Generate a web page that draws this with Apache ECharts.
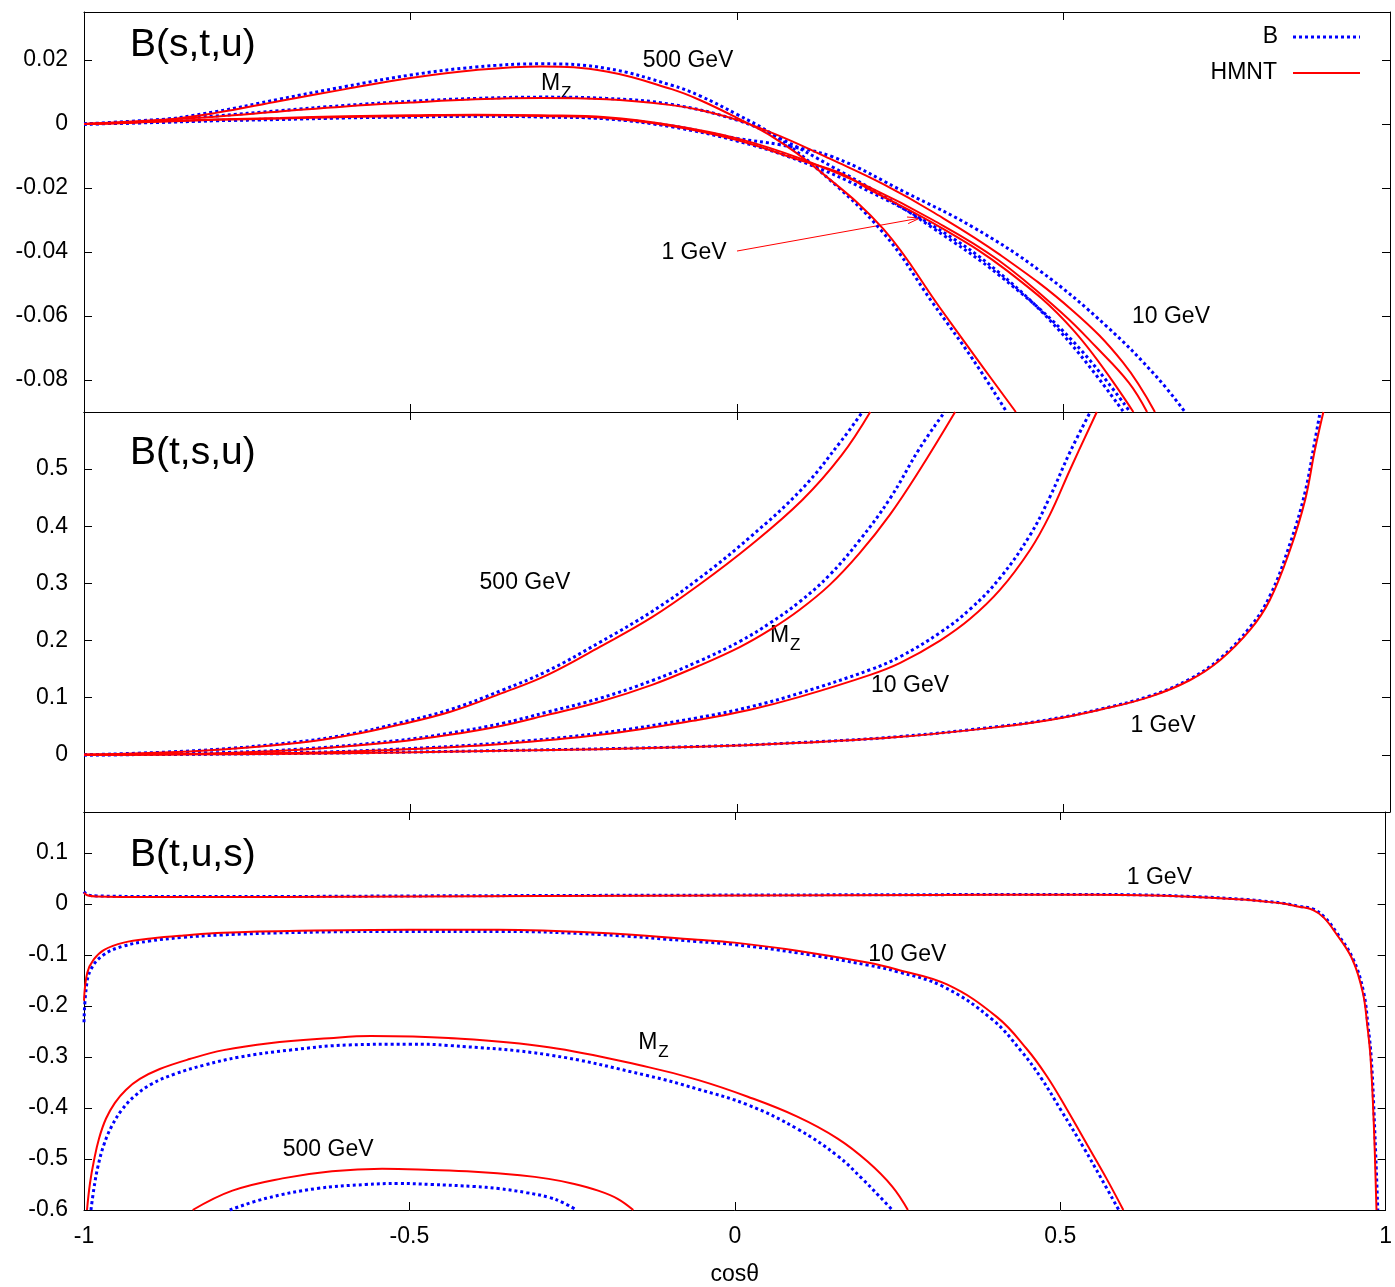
<!DOCTYPE html>
<html><head><meta charset="utf-8">
<script src="https://cdn.jsdelivr.net/npm/echarts@6/dist/echarts.min.js"></script>
<style>html,body{margin:0;padding:0;background:#fff}#c{width:1395px;height:1287px}</style>
</head><body><div id="c"></div><script>
// ---------- axes ----------
const xTicks = [-1, -0.5, 0, 0.5, 1];
const yTicks1 = [-0.08, -0.06, -0.04, -0.02, 0, 0.02];
const yTicks2 = [0, 0.1, 0.2, 0.3, 0.4, 0.5];
const yTicks3 = [-0.6, -0.5, -0.4, -0.3, -0.2, -0.1, 0, 0.1];
const yRange1 = [-0.09, 0.035];
const yRange2 = [-0.1, 0.6];
const yRange3 = [-0.6, 0.18];
const panelTitles = ['B(s,t,u)', 'B(t,s,u)', 'B(t,u,s)'];
const energies = ['500 GeV', 'M_Z', '10 GeV', '1 GeV'];

// ---------- panel 1 : B(s,t,u) ----------
const stu_500_B = [[-1,0],[-0.9,0.0009],[-0.8,0.0038],[-0.7,0.0078],[-0.6,0.0117],[-0.5,0.0153],[-0.4,0.0178],[-0.3,0.0188],[-0.2,0.0174],[-0.1,0.0121],[-0.057,0.0088],[0,0.003],[0.055,-0.0033],[0.123,-0.014],[0.224,-0.034],[0.3,-0.056],[0.361,-0.0735],[0.413,-0.09]];
const stu_500_H = [[-1,0],[-0.9,0.0008],[-0.8,0.0034],[-0.7,0.0072],[-0.6,0.0109],[-0.5,0.0144],[-0.4,0.0169],[-0.3,0.018],[-0.2,0.0164],[-0.1,0.0109],[-0.057,0.0075],[0,0.0019],[0.055,-0.0041],[0.123,-0.0141],[0.224,-0.0328],[0.311,-0.0575],[0.372,-0.0747],[0.427,-0.09]];
const stu_MZ_B = [[-1,0],[-0.9,0.0012],[-0.8,0.0025],[-0.7,0.0042],[-0.6,0.0058],[-0.5,0.0071],[-0.4,0.008],[-0.3,0.0084],[-0.2,0.008],[-0.1,0.0061],[0,0.0012],[0.066,-0.0045],[0.147,-0.0135],[0.224,-0.0225],[0.3,-0.0325],[0.403,-0.0475],[0.515,-0.068],[0.602,-0.09]];
const stu_MZ_H = [[-1,0],[-0.9,0.0011],[-0.8,0.0023],[-0.7,0.0039],[-0.6,0.0055],[-0.5,0.0067],[-0.4,0.0077],[-0.3,0.0081],[-0.2,0.0077],[-0.1,0.0059],[-0.057,0.0044],[0,0.0013],[0.066,-0.0038],[0.147,-0.0113],[0.224,-0.0188],[0.3,-0.0275],[0.403,-0.0409],[0.515,-0.0585],[0.591,-0.0745],[0.64,-0.09]];
const stu_10_B = [[-1,0],[-0.9,0.0005],[-0.8,0.0011],[-0.7,0.0016],[-0.6,0.002],[-0.5,0.0023],[-0.4,0.0025],[-0.3,0.0023],[-0.2,0.0017],[-0.1,-0.0006],[0,-0.0045],[0.066,-0.0065],[0.147,-0.0103],[0.26,-0.0216],[0.361,-0.0322],[0.464,-0.0459],[0.567,-0.0634],[0.643,-0.0791],[0.686,-0.09]];
const stu_10_H = [[-1,0],[-0.9,0.0007],[-0.8,0.0014],[-0.7,0.0019],[-0.6,0.0024],[-0.5,0.0027],[-0.4,0.0029],[-0.3,0.0027],[-0.2,0.0021],[-0.1,-0.0004],[0,-0.0045],[0.1,-0.011],[0.2,-0.0195],[0.3,-0.03],[0.4,-0.0425],[0.5,-0.0595],[0.55,-0.0697],[0.6,-0.0808],[0.628,-0.09]];
const stu_1_B = [[-1,0],[-0.9,0.0004],[-0.8,0.001],[-0.7,0.0014],[-0.6,0.0019],[-0.5,0.0022],[-0.4,0.0024],[-0.3,0.0022],[-0.2,0.0016],[-0.1,-0.0009],[0,-0.0053],[0.1,-0.0118],[0.2,-0.0208],[0.3,-0.0318],[0.4,-0.0462],[0.5,-0.066],[0.592,-0.09]];
const stu_1_H = [[-1,0],[-0.9,0.0006],[-0.8,0.0013],[-0.7,0.0017],[-0.6,0.0022],[-0.5,0.0025],[-0.4,0.0027],[-0.3,0.0025],[-0.2,0.0019],[-0.1,-0.0006],[0,-0.005],[0.096,-0.0113],[0.158,-0.0153],[0.199,-0.02],[0.311,-0.0322],[0.414,-0.0459],[0.515,-0.0644],[0.607,-0.09]];

// ---------- panel 2 : B(t,s,u) ----------
const tsu_500_B = [[-1,0],[-0.82,0.008],[-0.67,0.023],[-0.59,0.037],[-0.52,0.055],[-0.44,0.079],[-0.36,0.113],[-0.29,0.147],[-0.21,0.197],[-0.13,0.251],[-0.06,0.307],[0.02,0.381],[0.1,0.466],[0.16,0.55],[0.192,0.6]];
const tsu_500_H = [[-1,0],[-0.82,0.007],[-0.67,0.021],[-0.59,0.035],[-0.52,0.052],[-0.44,0.075],[-0.36,0.108],[-0.29,0.14],[-0.21,0.189],[-0.13,0.241],[-0.06,0.296],[0.02,0.366],[0.1,0.446],[0.16,0.524],[0.204,0.6]];
const tsu_MZ_B = [[-1,0],[-0.82,0.003],[-0.67,0.01],[-0.52,0.025],[-0.44,0.038],[-0.36,0.055],[-0.29,0.075],[-0.21,0.099],[-0.13,0.13],[-0.06,0.163],[0.005,0.199],[0.051,0.231],[0.096,0.268],[0.142,0.315],[0.188,0.376],[0.234,0.448],[0.28,0.537],[0.318,0.6]];
const tsu_MZ_H = [[-1,0],[-0.82,0.002],[-0.67,0.009],[-0.52,0.023],[-0.44,0.035],[-0.36,0.051],[-0.29,0.07],[-0.21,0.093],[-0.13,0.1225],[-0.06,0.155],[0.005,0.189],[0.051,0.219],[0.096,0.254],[0.142,0.2975],[0.188,0.3535],[0.234,0.42],[0.28,0.499],[0.334,0.6]];
const tsu_10_B = [[-1,0],[-0.67,0.004],[-0.52,0.01],[-0.36,0.021],[-0.21,0.038],[-0.06,0.065],[0.02,0.084],[0.096,0.108],[0.204,0.149],[0.25,0.172],[0.311,0.214],[0.357,0.255],[0.403,0.31],[0.449,0.385],[0.479,0.451],[0.51,0.53],[0.541,0.6]];
const tsu_10_H = [[-1,0],[-0.67,0.0035],[-0.52,0.009],[-0.36,0.019],[-0.21,0.035],[-0.06,0.061],[0.02,0.079],[0.096,0.1015],[0.204,0.14],[0.25,0.161],[0.311,0.2],[0.357,0.238],[0.403,0.289],[0.449,0.359],[0.479,0.42],[0.51,0.499],[0.551,0.6]];
const tsu_1_B = [[-1,0],[-0.67,0.0025],[-0.36,0.0075],[-0.06,0.0145],[0.096,0.0215],[0.25,0.032],[0.403,0.05],[0.479,0.062],[0.556,0.08],[0.632,0.103],[0.694,0.133],[0.74,0.169],[0.786,0.224],[0.816,0.278],[0.847,0.37],[0.87,0.46],[0.885,0.55],[0.893,0.6]];
const tsu_1_H = [[-1,0],[-0.67,0.002],[-0.36,0.007],[-0.06,0.014],[0.096,0.021],[0.25,0.0315],[0.403,0.049],[0.479,0.061],[0.556,0.079],[0.632,0.1015],[0.694,0.131],[0.74,0.166],[0.786,0.219],[0.816,0.271],[0.847,0.359],[0.87,0.446],[0.885,0.534],[0.898,0.6]];

// ---------- panel 3 : B(t,u,s) ----------
const tus_500_B = [[-0.776,-0.6],[-0.72,-0.577],[-0.643,-0.558],[-0.567,-0.55],[-0.516,-0.548],[-0.466,-0.55],[-0.4,-0.554],[-0.363,-0.558],[-0.32,-0.566],[-0.286,-0.575],[-0.265,-0.585],[-0.243,-0.6]];
const tus_500_H = [[-0.833,-0.6],[-0.772,-0.562],[-0.695,-0.538],[-0.619,-0.524],[-0.542,-0.519],[-0.466,-0.5215],[-0.4,-0.525],[-0.33,-0.532],[-0.286,-0.539],[-0.25,-0.548],[-0.21,-0.562],[-0.18,-0.578],[-0.156,-0.6]];
const tus_MZ_B = [[-0.9893,-0.6],[-0.9847,-0.5573],[-0.9786,-0.5148],[-0.9694,-0.4719],[-0.9571,-0.4349],[-0.9418,-0.4037],[-0.922,-0.3764],[-0.896,-0.353],[-0.8606,-0.3335],[-0.8147,-0.3159],[-0.7611,-0.3003],[-0.6845,-0.2867],[-0.5926,-0.2765],[-0.5,-0.275],[-0.44,-0.2775],[-0.286,-0.296],[-0.133,-0.337],[-0.057,-0.363],[0.02,-0.394],[0.096,-0.441],[0.158,-0.494],[0.196,-0.539],[0.222,-0.573],[0.242,-0.6]];
const tus_MZ_H = [[-0.9954,-0.6],[-0.9908,-0.5476],[-0.9847,-0.5031],[-0.977,-0.4602],[-0.9663,-0.4212],[-0.9525,-0.39],[-0.9357,-0.3647],[-0.9142,-0.3432],[-0.8836,-0.3237],[-0.8377,-0.3042],[-0.7856,-0.2867],[-0.7152,-0.273],[-0.6233,-0.2633],[-0.559,-0.259],[-0.44,-0.263],[-0.286,-0.281],[-0.133,-0.32],[-0.057,-0.345],[0.02,-0.378],[0.096,-0.417],[0.158,-0.46],[0.204,-0.505],[0.242,-0.554],[0.266,-0.6]];
const tus_10_B = [[-1,-0.232],[-0.997,-0.17],[-0.99,-0.13],[-0.97,-0.1],[-0.94,-0.083],[-0.9,-0.073],[-0.85,-0.066],[-0.79,-0.061],[-0.67,-0.056],[-0.5,-0.054],[-0.36,-0.054],[-0.21,-0.06],[-0.057,-0.074],[0,-0.08],[0.096,-0.096],[0.204,-0.12],[0.25,-0.133],[0.32,-0.162],[0.395,-0.226],[0.441,-0.29],[0.471,-0.342],[0.502,-0.406],[0.537,-0.48],[0.563,-0.538],[0.59,-0.6]];
const tus_10_H = [[-1,-0.19],[-0.995,-0.135],[-0.985,-0.109],[-0.969,-0.09],[-0.939,-0.076],[-0.897,-0.068],[-0.847,-0.062],[-0.786,-0.0566],[-0.669,-0.0527],[-0.5,-0.0507],[-0.363,-0.0507],[-0.21,-0.0566],[-0.057,-0.0702],[0,-0.076],[0.096,-0.0917],[0.204,-0.115],[0.249,-0.1287],[0.326,-0.158],[0.403,-0.222],[0.449,-0.285],[0.479,-0.337],[0.51,-0.402],[0.545,-0.48],[0.571,-0.538],[0.597,-0.6]];
const tus_1_B = [[-1,0.024],[-0.995,0.018],[-0.98,0.0155],[-0.9,0.0145],[-0.7,0.0145],[-0.5,0.0155],[-0.3,0.0163],[0,0.0172],[0.3,0.018],[0.5,0.0185],[0.6,0.018],[0.7,0.0145],[0.786,0.0085],[0.811,0.0055],[0.841,0.0015],[0.866,-0.0045],[0.889,-0.0105],[0.906,-0.026],[0.924,-0.055],[0.95,-0.108],[0.966,-0.172],[0.973,-0.239],[0.978,-0.303],[0.983,-0.434],[0.988,-0.6]];
const tus_1_H = [[-1,0.022],[-0.995,0.017],[-0.98,0.0145],[-0.9,0.0135],[-0.7,0.0135],[-0.5,0.0145],[-0.3,0.0155],[0,0.0165],[0.3,0.0175],[0.5,0.018],[0.6,0.0175],[0.7,0.014],[0.786,0.0078],[0.81,0.005],[0.84,0.001],[0.865,-0.005],[0.888,-0.0117],[0.905,-0.027],[0.923,-0.0566],[0.949,-0.109],[0.965,-0.174],[0.972,-0.24],[0.977,-0.304],[0.982,-0.435],[0.986,-0.6]];

// ---------- annotations (data coordinates) ----------
const labels = [
  {p:0, t:'500 GeV', at:[-0.075, 0.0197]},
  {p:0, t:'1 GeV', at:[-0.0658, -0.0403]},
  {p:0, t:'10 GeV', at:[0.6646, -0.0603]},
  {p:1, t:'500 GeV', at:[-0.3247, 0.301]},
  {p:1, t:'10 GeV', at:[0.265, 0.1208]},
  {p:1, t:'1 GeV', at:[0.6524, 0.0508]},
  {p:2, t:'1 GeV', at:[0.6524, 0.0507]},
  {p:2, t:'10 GeV', at:[0.265, -0.0995]},
  {p:2, t:'500 GeV', at:[-0.6248, -0.4817]}
];
const mzLabels = [
  {p:0, at:[-0.300, 0.0125]},
  {p:1, at:[0.0505, 0.208]},
  {p:2, at:[-0.1485, -0.273]}
];
const arrow1 = {p:0, from:[0, -0.0397], to:[0.2802, -0.0294]};

// ---------- layout ----------
const GL = 84, GR = 5, GT = 12, GH = 400;
const FONT = 'Liberation Sans, Arial, sans-serif';
const BLUE = '#0000ff', RED = '#ff0000';
const yTicks = [yTicks1, yTicks2, yTicks3];
const yRanges = [yRange1, yRange2, yRange3];

const grids = [], xAxes = [], yAxes = [], series = [];
for (let p = 0; p < 3; p++) {
  grids.push({left: GL, right: GR, top: GT + p * GH, height: GH, containLabel: false});
}
const axisLineStyle = {show: true, onZero: false, lineStyle: {color: '#000', width: 1}};
for (let p = 0; p < 3; p++) {
  xAxes.push({
    gridIndex: p, type: 'value', position: 'bottom', min: -1, max: 1, interval: 0.5,
    axisLine: axisLineStyle, splitLine: {show: false},
    axisTick: {show: true, inside: true, length: 8, lineStyle: {color: '#000'}},
    axisLabel: {show: p === 2, margin: 15, fontFamily: FONT, fontSize: 23, color: '#000',
      formatter: v => String(v)},
    name: p === 2 ? 'cosθ' : '', nameLocation: 'middle', nameGap: 53,
    nameTextStyle: {fontFamily: FONT, fontSize: 23, color: '#000'}
  });
}
for (let p = 0; p < 3; p++) {
  xAxes.push({
    gridIndex: p, type: 'value', position: 'top', min: -1, max: 1, interval: 0.5,
    axisLine: axisLineStyle, splitLine: {show: false},
    axisTick: {show: true, inside: true, length: 8, lineStyle: {color: '#000'}},
    axisLabel: {show: false}
  });
}
for (let side = 0; side < 2; side++) {
  for (let p = 0; p < 3; p++) {
    yAxes.push({
      gridIndex: p, type: 'value', position: side === 0 ? 'left' : 'right',
      min: yRanges[p][0], max: yRanges[p][1],
      axisLine: axisLineStyle, splitLine: {show: false},
      axisTick: {show: true, inside: true, length: 8, customValues: yTicks[p], lineStyle: {color: '#000'}},
      axisLabel: {show: side === 0, customValues: yTicks[p], margin: 16, fontFamily: FONT, fontSize: 23,
        color: '#000', formatter: v => String(v)}
    });
  }
}
function addLine(name, data, p, isB) {
  series.push({
    name: name, type: 'line', xAxisIndex: p, yAxisIndex: p, data: data,
    symbol: 'none', smooth: 0.4, clip: true, silent: true,
    lineStyle: isB ? {color: BLUE, width: 3, type: [3, 3], cap: 'butt'} : {color: RED, width: 2},
    z: isB ? 2 : 3
  });
}
const Bsets = [[stu_500_B, stu_MZ_B, stu_10_B, stu_1_B], [tsu_500_B, tsu_MZ_B, tsu_10_B, tsu_1_B], [tus_500_B, tus_MZ_B, tus_10_B, tus_1_B]];
const Hsets = [[stu_500_H, stu_MZ_H, stu_10_H, stu_1_H], [tsu_500_H, tsu_MZ_H, tsu_10_H, tsu_1_H], [tus_500_H, tus_MZ_H, tus_10_H, tus_1_H]];
for (let p = 0; p < 3; p++) {
  Bsets[p].forEach(d => addLine('B', d, p, true));
  Hsets[p].forEach(d => addLine('HMNT', d, p, false));
}

const chart = echarts.init(document.getElementById('c'), null, {renderer: 'canvas'});
chart.setOption({animation: false, backgroundColor: '#fff', grid: grids, xAxis: xAxes, yAxis: yAxes, series: series});

// ---------- graphic annotations ----------
const g = [];
const px = (p, v) => chart.convertToPixel({xAxisIndex: p, yAxisIndex: p}, v);
const titleY = [45, 453, 855];
panelTitles.forEach((t, i) => g.push({type: 'text', x: 130, y: titleY[i],
  style: {text: t, font: '39px ' + FONT, fill: '#000', align: 'left', verticalAlign: 'middle'}}));
labels.forEach(l => {
  const q = px(l.p, l.at);
  g.push({type: 'text', x: q[0], y: q[1], style: {text: l.t, font: '23px ' + FONT, fill: '#000', align: 'center', verticalAlign: 'middle'}});
});
mzLabels.forEach(l => {
  const q = px(l.p, l.at);
  g.push({type: 'text', x: q[0], y: q[1], style: {text: 'M', font: '23px ' + FONT, fill: '#000', align: 'left', verticalAlign: 'middle'}});
  g.push({type: 'text', x: q[0] + 20, y: q[1] + 9, style: {text: 'Z', font: '17px ' + FONT, fill: '#000', align: 'left', verticalAlign: 'middle'}});
});
{
  const a = px(arrow1.p, arrow1.from), b = px(arrow1.p, arrow1.to);
  const ang = Math.atan2(b[1] - a[1], b[0] - a[0]);
  const L = 13, h = 0.26;
  g.push({type: 'line', shape: {x1: a[0], y1: a[1], x2: b[0], y2: b[1]}, style: {stroke: RED, lineWidth: 1}});
  g.push({type: 'polyline', shape: {points: [
    [b[0] - L * Math.cos(ang - h), b[1] - L * Math.sin(ang - h)], b,
    [b[0] - L * Math.cos(ang + h), b[1] - L * Math.sin(ang + h)]]}, style: {stroke: RED, lineWidth: 1, fill: null}});
}
// legend
g.push({type: 'text', x: 1278, y: 37, style: {text: 'B', font: '23px ' + FONT, fill: '#000', align: 'right', verticalAlign: 'middle'}});
g.push({type: 'line', shape: {x1: 1293, y1: 37, x2: 1360, y2: 37}, style: {stroke: BLUE, lineWidth: 3, lineDash: [3, 3]}});
g.push({type: 'text', x: 1277, y: 73, style: {text: 'HMNT', font: '23px ' + FONT, fill: '#000', align: 'right', verticalAlign: 'middle'}});
g.push({type: 'line', shape: {x1: 1293, y1: 73, x2: 1360, y2: 73}, style: {stroke: RED, lineWidth: 2}});
chart.setOption({graphic: g});
</script></body></html>
